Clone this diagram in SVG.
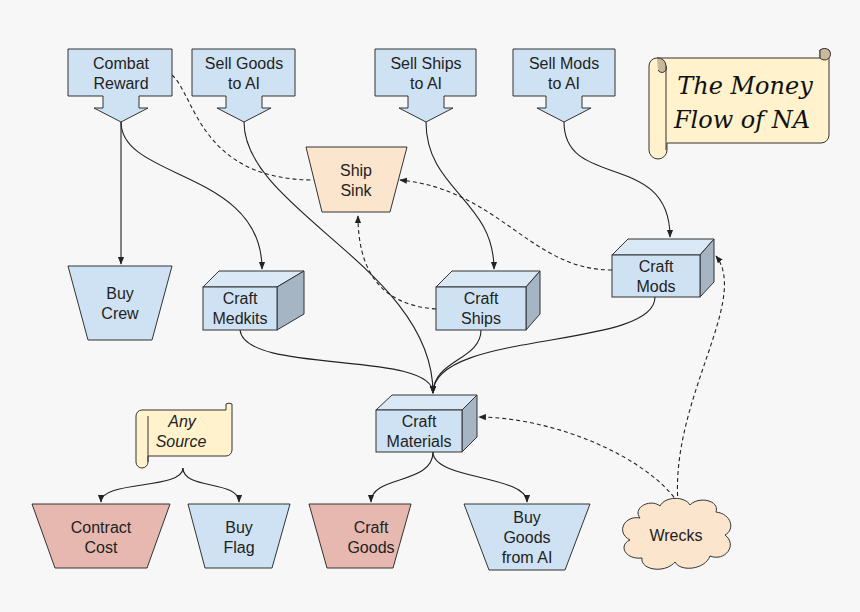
<svg xmlns="http://www.w3.org/2000/svg" width="860" height="612" viewBox="0 0 860 612">
<defs>
<style>
.b{fill:#cfe2f3;stroke:#333;stroke-width:1}
.r{fill:#e6b8af;stroke:#333;stroke-width:1}
.p{fill:#fce5cd;stroke:#333;stroke-width:1}
.y{fill:#fff2cc;stroke:#333;stroke-width:1}
.top{fill:#dbe8f5;stroke:#333}
.side{fill:#a5b5c4;stroke:#333}
text{font-family:"Liberation Sans",Arial,sans-serif;font-size:16px;fill:#222;text-anchor:middle}
.c path{fill:none;stroke:#222;stroke-width:1.1}
.c .d{stroke-dasharray:4 3}
</style>
<marker id="a" viewBox="0 0 10 10" refX="9" refY="5" markerWidth="7" markerHeight="7" orient="auto"><path d="M0,1 L10,5 L0,9 z" fill="#222"/></marker>
</defs>
<rect width="860" height="612" fill="#f7f7f7"/>
<g class="c">
<path d="M121,122 L121,264" marker-end="url(#a)"/>
<path d="M121,122 C121,180 262,170 262,269" marker-end="url(#a)"/>
<path class="d" d="M172,75 C195,95 200,180 314,180"/>
<path d="M244,122 C244,210 433,270 433,393" marker-end="url(#a)"/>
<path d="M426,122 C426,190 494,200 494,269" marker-end="url(#a)"/>
<path d="M564,122 C564,190 670,150 670,237" marker-end="url(#a)"/>
<path d="M240,330 C245,375 433,350 433,393" marker-end="url(#a)"/>
<path d="M481,330 C481,360 433,360 433,393" marker-end="url(#a)"/>
<path d="M655,297 C655,350 433,330 433,393" marker-end="url(#a)"/>
<path class="d" d="M436,309 C380,305 358,270 358,216" marker-end="url(#a)"/>
<path class="d" d="M612,270 C530,270 500,190 400,180" marker-end="url(#a)"/>
<path class="d" d="M678,503 C670,400 750,300 716,256" marker-end="url(#a)"/>
<path class="d" d="M678,503 C650,460 560,418 479,417" marker-end="url(#a)"/>
<path d="M433,452 C433,485 371,475 371,502" marker-end="url(#a)"/>
<path d="M433,452 C433,480 527,475 527,502" marker-end="url(#a)"/>
<path d="M183,468 C183,490 101,480 101,502" marker-end="url(#a)"/>
<path d="M183,468 C183,490 239,480 239,502" marker-end="url(#a)"/>
</g>
<g id="combat"><path class="b" d="M68,49 H172 V96 H139 V108 H148 L121,122 L94,108 H103 V96 H68 Z"/><text x="121" y="69">Combat</text><text x="121" y="89">Reward</text></g>
<g id="sellgoods"><path class="b" d="M192,49 H295 V96 H262 V108 H271 L244,122 L217,108 H226 V96 H192 Z"/><text x="244" y="69">Sell Goods</text><text x="244" y="89">to AI</text></g>
<g id="sellships"><path class="b" d="M375,49 H476 V96 H444 V108 H453 L426,122 L399,108 H408 V96 H375 Z"/><text x="426" y="69">Sell Ships</text><text x="426" y="89">to AI</text></g>
<g id="sellmods"><path class="b" d="M513,49 H615 V96 H582 V108 H591 L564,122 L537,108 H546 V96 H513 Z"/><text x="564" y="69">Sell Mods</text><text x="564" y="89">to AI</text></g>
<g id="title">
<path class="y" d="M657,58 H820 V50 A9,9 0 0 1 829,50 V135 A8,8 0 0 1 821,143 H667 V150 A9,9 0 0 1 649,150 V66 A8,8 0 0 1 657,58 Z"/>
<path d="M820,58 V50 A8,8 0 0 1 829,50 A5,5 0 0 1 820,58 Z" fill="#c9b99a" stroke="#333"/>
<path d="M657,58 A8,8 0 0 1 666,66 A4,4 0 0 1 658,70" fill="#c9b99a" stroke="#333"/>
<path d="M666,66 V150" fill="none" stroke="#333"/>
<text x="745" y="94" style="font-family:'DejaVu Serif',serif;font-style:italic;font-size:24px;fill:#111">The Money</text>
<text x="742" y="128" style="font-family:'DejaVu Serif',serif;font-style:italic;font-size:24px;fill:#111">Flow of NA</text>
</g>
<g id="shipsink"><path class="p" d="M306,147 H407 L390,212 H322 Z"/><text x="356" y="176">Ship</text><text x="356" y="196">Sink</text></g>
<g id="buycrew"><path class="b" d="M68,266 H172 L152,340 H88 Z"/><text x="120" y="299">Buy</text><text x="120" y="319">Crew</text></g>
<g id="medkits"><path class="top" d="M203,287 L219,271 H304 L277,287 Z"/><path class="side" d="M277,287 L304,271 V314 L277,330 Z"/><rect class="b" x="203" y="287" width="74" height="43"/><text x="240" y="304">Craft</text><text x="240" y="324">Medkits</text></g>
<g id="ships"><path class="top" d="M436,287 L452,271 H540 L526,287 Z"/><path class="side" d="M526,287 L540,271 V314 L526,330 Z"/><rect class="b" x="436" y="287" width="90" height="43"/><text x="481" y="304">Craft</text><text x="481" y="324">Ships</text></g>
<g id="mods"><path class="top" d="M612,255 L628,239 H714 L700,255 Z"/><path class="side" d="M700,255 L714,239 V282 L700,297 Z"/><rect class="b" x="612" y="255" width="88" height="42"/><text x="656" y="272">Craft</text><text x="656" y="292">Mods</text></g>
<g id="materials"><path class="top" d="M376,410 L392,395 H477 L462,410 Z"/><path class="side" d="M462,410 L477,395 V437 L462,452 Z"/><rect class="b" x="376" y="410" width="86" height="42"/><text x="419" y="427">Craft</text><text x="419" y="447">Materials</text></g>
<g id="anysource">
<path class="y" d="M142,410 H226 V404 A6,6 0 0 1 232,404 V450 A6,6 0 0 1 226,456 H148 V462 A6,6 0 0 1 136,462 V416 A6,6 0 0 1 142,410 Z"/>
<path d="M148,416 V462" fill="none" stroke="#333"/>
<text x="182" y="427" style="font-style:italic">Any</text><text x="181" y="447" style="font-style:italic">Source</text>
</g>
<g id="contract"><path class="r" d="M32,504 H170 L147,568 H55 Z"/><text x="101" y="533">Contract</text><text x="101" y="553">Cost</text></g>
<g id="buyflag"><path class="b" d="M188,504 H290 L272,568 H205 Z"/><text x="239" y="533">Buy</text><text x="239" y="553">Flag</text></g>
<g id="craftgoods"><path class="r" d="M309,504 H411 L393,568 H327 Z"/><text x="371" y="533">Craft</text><text x="371" y="553">Goods</text></g>
<g id="buygoods"><path class="b" d="M464,504 H590 L565,570 H489 Z"/><text x="527" y="523">Buy</text><text x="527" y="543">Goods</text><text x="527" y="563">from AI</text></g>
<g id="wrecks"><path class="p" d="M640,518 C632,508 650,498 660,506 C665,496 685,496 690,505 C698,496 720,500 716,512 C732,514 735,530 725,535 C738,545 725,562 710,556 C705,570 680,572 675,562 C665,574 640,570 642,558 C625,560 618,545 630,540 C615,532 625,515 640,518 Z"/><text x="676" y="541">Wrecks</text></g>
</svg>
